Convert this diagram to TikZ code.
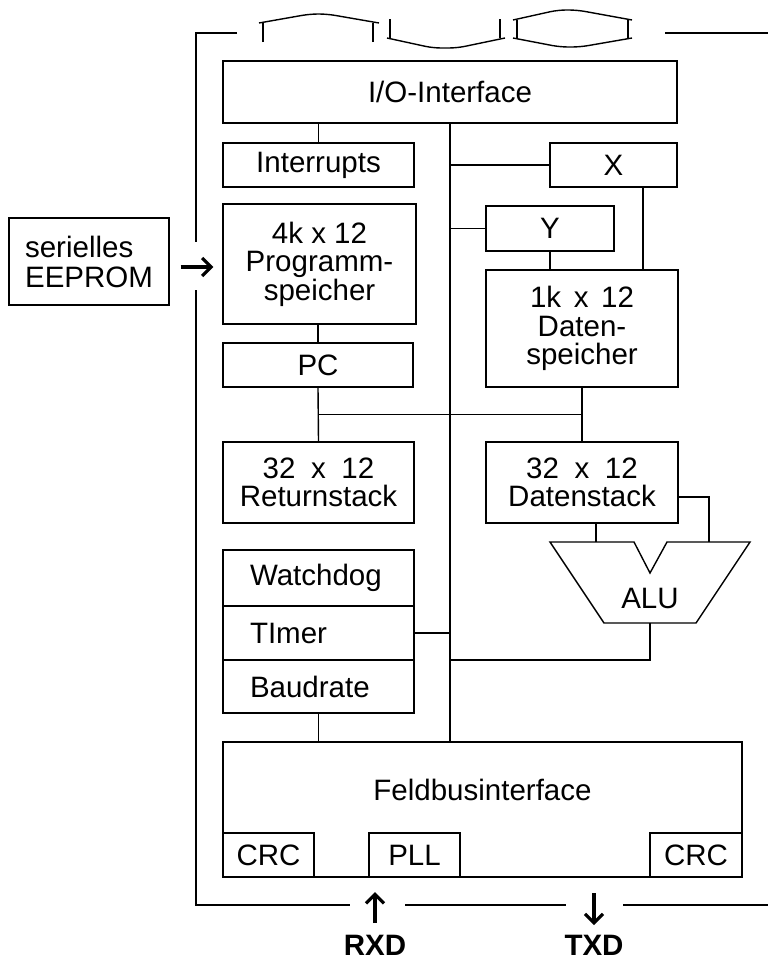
\documentclass[tikz,border=0pt]{standalone}
\usepackage{fontspec}
\setmainfont{Liberation Sans}
\usetikzlibrary{calc,arrows.meta}
\newcommand\lab{\fontsize{29.5}{26}\selectfont}
\begin{document}
\begin{tikzpicture}[x=1pt,y=-1pt,
  line width=1.4pt,
  box/.style={draw, rectangle, inner sep=0pt, font=\lab, align=center},
  lbox/.style={draw, rectangle, inner ysep=0pt, inner xsep=27pt, font=\lab,
     text width=137pt, align=left, minimum height=#1},
  plain/.style={font=\lab, inner sep=0pt}
]
\useasboundingbox (0,0) rectangle (768,961);

% boxes
\node[box, minimum width=454pt, minimum height=62pt] (io) at (450,92) {I/O-Interface};
\node[box, minimum width=191pt, minimum height=44pt] (intr) at (318.5,165) {Interrupts};
\node[box, minimum width=127pt, minimum height=44pt] (X) at (613.5,165) {X};
\node[box, minimum width=193pt, minimum height=120pt, font=\fontsize{29.5}{28.5}\selectfont] (prog) at (319.5,264) {4k x 12\\Programm-\\speicher};
\node[box, minimum width=128pt, minimum height=45pt] (Y) at (550,228.5) {Y};
\node[box, minimum width=192pt, minimum height=117pt, font=\fontsize{29.5}{28.5}\selectfont] (dsp) at (582,328.5) {1k\hspace{0.15em} x\hspace{0.15em} 12\\Daten-\\speicher};
\node[box, minimum width=190pt, minimum height=44pt] (pc) at (318,365) {PC};
\node[box, minimum width=191pt, minimum height=81pt, font=\fontsize{29.5}{28.5}\selectfont] (rs) at (318.5,482.5) {32\hspace{0.25em} x\hspace{0.25em} 12\\Returnstack};
\node[box, minimum width=192pt, minimum height=81pt, font=\fontsize{29.5}{28.5}\selectfont] (ds) at (582,482.5) {32\hspace{0.25em} x\hspace{0.25em} 12\\Datenstack};
\node[lbox=56pt] (wd) at (318.5,578) {Watchdog};
\node[lbox=54pt] (tm) at (318.5,633) {TImer};
\node[lbox=53pt] (br) at (318.5,686.5) {Baudrate};
\node[box, minimum width=519pt, minimum height=135pt,
      label={[plain, yshift=19.5pt]center:Feldbusinterface}] (fb) at (482.5,809.5) {};
\node[box, minimum width=91pt, minimum height=44pt] (crc1) at (268.5,855) {CRC};
\node[box, minimum width=91pt, minimum height=44pt] (pll) at (414.5,855) {PLL};
\node[box, minimum width=92pt, minimum height=44pt] (crc2) at (696,855) {CRC};
\node[box, minimum width=160pt, minimum height=87pt, align=left, font=\fontsize{29.5}{30}\selectfont] (eep) at (89,261.5) {serielles\\EEPROM};

% ALU
\node[plain] (alu) at (650,598) {ALU};
\coordinate (a1) at (596,542);
\coordinate (a2) at (709,542);
\coordinate (a3) at (650,623);
\draw (550,542) -- (634,542) -- (650,573) -- (667,542) -- (750,542) -- (696,623) -- (604,623) -- cycle;

% bus and connections
\draw (io.south) -- (io.south |- fb.north);
\draw (intr.north) -- (intr.north |- io.south);
\draw (X.west) -- (X.west -| io.south);
\draw ([xshift=29.5pt]X.south) -- ([xshift=29.5pt]X.south |- dsp.north);
\draw (Y.west) -- (Y.west -| io.south);
\draw (Y.south) -- (Y.south |- dsp.north);
\draw (pc.north) -- (pc.north |- prog.south);
\draw (pc.south) -- (rs.north);
\draw (dsp.south) -- (ds.north);
\draw ($(pc.south)!0.5!(rs.north)$) -- ($(dsp.south)!0.5!(ds.north)$);
\draw (tm.east) -- (tm.east -| io.south);
\draw (br.south) -- (br.south |- fb.north);
\draw (a1 |- ds.south) -- (a1);
\draw ([yshift=-14.5pt]ds.east) -- ([yshift=-14.5pt]ds.east -| a2) -- (a2);
\draw (a3) -- (a3 |- 0,660) -- (io.south |- 0,660);

% outer frame
\draw (237,33) -- (196,33) -- (196,242);
\draw (196,290) -- (196,905) -- (350,905);
\draw (405,905) -- (566,905);
\draw (623,905) -- (768,905);
\draw (665,33) -- (768,33);

% EEPROM arrow
\draw[line width=3.2pt, -{Straight Barb[length=9pt,width=18pt,line width=3.2pt]}] ([xshift=11pt,yshift=-5.5pt]eep.east) -- ([xshift=-9pt,yshift=-5.5pt]eep.east -| prog.west);

% RXD / TXD
\node[plain, font=\lab\bfseries] (rxd) at (375,945) {RXD};
\node[plain, font=\lab\bfseries] (txd) at (594,945) {TXD};
\draw[line width=3.2pt, -{Straight Barb[length=9pt,width=18pt,line width=3.2pt]}] ([yshift=11pt]rxd.north) -- ([yshift=42pt]rxd.north);
\draw[line width=3.2pt, -{Straight Barb[length=9pt,width=18pt,line width=3.2pt]}] ([yshift=41pt]txd.north) -- ([yshift=9pt]txd.north);

% top connector symbols
\draw (263,42) -- (263,23);
\draw (373,42) -- (373,23);
\draw[rounded corners=8pt] (259,23) -- (310,14) -- (327,14) -- (379,23);
\draw (390,19) -- (390,38);
\draw (500,19) -- (500,38);
\draw[rounded corners=8pt] (387,38) -- (433,48) -- (457,48) -- (505,38);
\draw (517,20) -- (517,38);
\draw (628,20) -- (628,38);
\draw[rounded corners=8pt] (513,20) -- (558,10) -- (577,10) -- (632,20);
\draw[rounded corners=8pt] (513,38) -- (560,47) -- (580,47) -- (632,38);
\end{tikzpicture}
\end{document}
